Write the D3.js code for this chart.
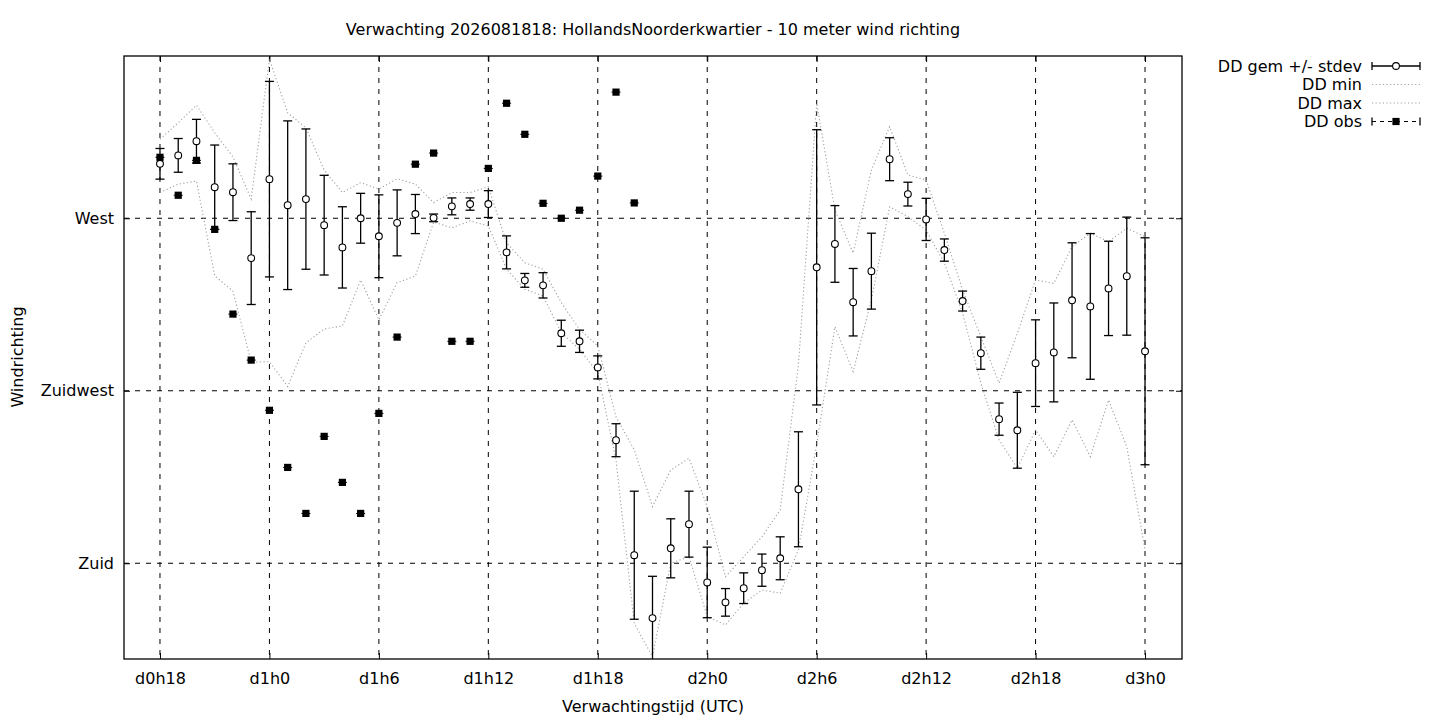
<!DOCTYPE html>
<html><head><meta charset="utf-8">
<script src="https://cdn.jsdelivr.net/npm/d3@7/dist/d3.min.js"></script>
<style>
body{margin:0;background:#fff}
svg{display:block}
text{font-family:"DejaVu Sans",sans-serif;fill:#000}
</style>
</head><body>
<svg id="chart" width="1440" height="720"></svg>
<script>
// ---- data ----
const titleText = "Verwachting 2026081818: HollandsNoorderkwartier - 10 meter wind richting";
const xAxisTitle = "Verwachtingstijd (UTC)";
const yAxisTitle = "Windrichting";

const hours = [18,19,20,21,22,23,24,25,26,27,28,29,30,31,32,33,34,35,36,37,38,39,40,41,42,43,44,45,
  46,47,48,49,50,51,52,53,54,55,56,57,58,59,60,61,62,63,64,65,66,67,68,69,70,71,72];

const ddMean = [284.2,286.4,290.1,278.1,276.8,259.6,280.2,273.4,275.0,268.2,262.4,270.0,265.3,268.8,
  271.1,270.1,273.1,273.7,273.7,261.1,253.8,252.5,240.0,237.9,231.1,212.1,182.1,165.7,183.9,190.2,
  175.0,169.8,173.5,178.2,181.3,199.3,257.2,263.3,248.1,256.2,285.4,276.3,269.7,261.7,248.4,234.8,
  217.6,214.7,232.2,235.0,248.6,247.0,251.7,254.9,235.3];

const ddStdev = [4.0,4.4,5.7,11.0,7.4,12.1,25.5,22.0,18.3,13.0,10.6,6.5,10.8,8.6,5.1,1.0,2.2,1.6,3.5,
  4.3,1.8,3.3,3.4,2.9,3.0,4.3,16.7,10.9,7.7,8.6,9.2,3.6,4.0,4.2,5.6,15.0,35.9,10.0,8.8,9.9,5.6,3.1,
  5.5,2.9,2.6,4.2,4.2,9.9,11.3,12.9,15.0,19.0,12.3,15.4,29.6];

const ddMin = [276.7,278.9,279.7,255.0,251.0,232.4,232.6,226.1,237.5,241.1,241.9,253.9,243.5,253.2,
  254.9,269.0,267.5,269.3,268.0,256.7,251.5,249.7,240.2,235.8,229.7,206.9,164.3,155.6,180.0,181.7,
  166.1,163.9,169.6,173.0,172.2,183.5,210.9,241.7,230.0,248.7,273.0,270.4,266.9,258.3,245.3,227.0,
  212.2,204.8,214.8,207.8,217.4,207.8,222.6,210.4,183.5];

const ddMax = [290.6,294.9,299.5,292.3,286.0,275.0,311.5,297.5,293.6,282.6,276.7,279.3,277.6,280.3,
  278.9,274.1,276.7,276.7,278.2,263.6,258.4,256.7,248.0,241.0,236.7,218.2,209.6,194.8,204.3,207.4,
  194.8,176.5,181.7,186.9,193.9,231.7,300.0,272.2,260.9,282.6,293.9,281.3,280.0,266.1,251.3,239.1,
  227.0,240.0,253.9,253.0,262.6,266.1,263.9,267.4,265.2];

const obsHours = [18,19,20,21,22,23,24,25,26,27,28,29,30,31,32,33,34,35,36,37,38,39,40,41,42,43,44];
const ddObs = [285.9,276.0,285.1,267.1,245.0,233.0,219.9,205.0,193.0,213.1,201.1,193.0,219.1,239.0,
  284.1,287.0,237.9,237.9,283.0,300.0,291.9,273.9,270.0,272.1,281.0,302.9,274.0];

const xTickValues = [18,24,30,36,42,48,54,60,66,72];
const xTickLabels = ["d0h18","d1h0","d1h6","d1h12","d1h18","d2h0","d2h6","d2h12","d2h18","d3h0"];
const yTickValues = [180,225,270];
const yTickLabels = ["Zuid","Zuidwest","West"];
const legendLabels = ["DD gem +/- stdev","DD min","DD max","DD obs"];

// ---- layout ----
const FS = 16;
const svg = d3.select("#chart");
const L = 124, R = 1182, T = 56, B = 659;
const x = d3.scaleLinear().domain([16, 74]).range([123.5, 1181.5]);
const y = d3.scaleLinear().domain([155.0, 312.3]).range([659.1, 56.1]);

svg.append("defs").append("clipPath").attr("id","plotclip")
  .append("rect").attr("x",L).attr("y",T).attr("width",R-L).attr("height",B-T);

// grid
const grid = svg.append("g");
grid.selectAll("line.gx").data(xTickValues).join("line")
  .attr("x1",d=>x(d)).attr("x2",d=>x(d)).attr("y1",T).attr("y2",B)
  .attr("stroke","#000").attr("stroke-width",1).attr("stroke-dasharray","5,6");
grid.selectAll("line.gy").data(yTickValues).join("line")
  .attr("y1",d=>y(d)).attr("y2",d=>y(d)).attr("x1",L).attr("x2",R)
  .attr("stroke","#000").attr("stroke-width",1).attr("stroke-dasharray","5,6");

// axes (ticks inside, mirrored)
const fmtX = d => xTickLabels[xTickValues.indexOf(d)];
const fmtY = d => yTickLabels[yTickValues.indexOf(d)];
const axB = svg.append("g").attr("transform",`translate(0,${B})`)
  .call(d3.axisBottom(x).tickValues(xTickValues).tickFormat(fmtX).tickSizeInner(-6).tickSizeOuter(0).tickPadding(14));
const axT = svg.append("g").attr("transform",`translate(0,${T})`)
  .call(d3.axisTop(x).tickValues(xTickValues).tickFormat("").tickSizeInner(-6).tickSizeOuter(0));
const axL = svg.append("g").attr("transform",`translate(${L},0)`)
  .call(d3.axisLeft(y).tickValues(yTickValues).tickFormat(fmtY).tickSizeInner(-6).tickSizeOuter(0).tickPadding(10));
const axR = svg.append("g").attr("transform",`translate(${R},0)`)
  .call(d3.axisRight(y).tickValues(yTickValues).tickFormat("").tickSizeInner(-6).tickSizeOuter(0));
[axB,axT,axL,axR].forEach(a=>{
  a.select(".domain").remove();
  a.selectAll("line").attr("stroke","#000").attr("stroke-width",1);
  a.selectAll("text").attr("font-family","DejaVu Sans").attr("font-size",FS).attr("fill","#000");
});

// border
svg.append("rect").attr("x",L).attr("y",T).attr("width",R-L).attr("height",B-T)
  .attr("fill","none").attr("stroke","#000").attr("stroke-width",1.3);

const plot = svg.append("g").attr("clip-path","url(#plotclip)");

// min / max dotted lines
const line = d3.line().x((d,i)=>x(hours[i])).y(d=>y(d));
[ddMin, ddMax].forEach(arr=>{
  plot.append("path").attr("d", line(arr)).attr("fill","none")
    .attr("stroke","#a0a0a0").attr("stroke-width",1.1).attr("stroke-dasharray","1.2,2.4");
});

// error bars
const eb = plot.append("g");
hours.forEach((h,i)=>{
  const cx = x(h), y1 = y(ddMean[i]+ddStdev[i]), y2 = y(ddMean[i]-ddStdev[i]);
  eb.append("line").attr("x1",cx).attr("x2",cx).attr("y1",y1).attr("y2",y2)
    .attr("stroke","#000").attr("stroke-width",1.3);
  [y1,y2].forEach(yy=>eb.append("line").attr("x1",cx-4.5).attr("x2",cx+4.5).attr("y1",yy).attr("y2",yy)
    .attr("stroke","#000").attr("stroke-width",1.3));
});
plot.append("g").selectAll("circle").data(ddMean).join("circle")
  .attr("cx",(d,i)=>x(hours[i])).attr("cy",d=>y(d)).attr("r",3.4)
  .attr("fill","#fff").attr("stroke","#000").attr("stroke-width",1.1);

// observations
const og = plot.append("g");
obsHours.forEach((h,i)=>{
  const cx = x(h), cy = y(ddObs[i]);
  og.append("line").attr("x1",cx-4.5).attr("x2",cx+4.5).attr("y1",cy).attr("y2",cy)
    .attr("stroke","#000").attr("stroke-width",1);
  og.append("rect").attr("x",cx-3.6).attr("y",cy-3.6).attr("width",7.2).attr("height",7.2).attr("fill","#000");
});

// title & axis titles
svg.append("text").attr("x",653).attr("y",35).attr("text-anchor","middle").attr("font-size",FS).text(titleText);
svg.append("text").attr("x",653).attr("y",712).attr("text-anchor","middle").attr("font-size",FS).text(xAxisTitle);
svg.append("text").attr("transform","translate(23,357) rotate(-90)").attr("text-anchor","middle").attr("font-size",FS).text(yAxisTitle);

// legend
const lg = svg.append("g");
const rowsY = [66, 84.5, 103, 121.5];
const sx1 = 1372, sx2 = 1420, smid = 1396;
legendLabels.forEach((t,i)=>{
  lg.append("text").attr("x",1362).attr("y",rowsY[i]).attr("dy","0.35em").attr("text-anchor","end")
    .attr("font-size",FS).text(t);
});
// gem
let ry = rowsY[0];
lg.append("line").attr("x1",sx1).attr("x2",sx2).attr("y1",ry).attr("y2",ry).attr("stroke","#000").attr("stroke-width",1.3);
[sx1,sx2].forEach(xx=>lg.append("line").attr("x1",xx).attr("x2",xx).attr("y1",ry-4).attr("y2",ry+4).attr("stroke","#000").attr("stroke-width",1.3));
lg.append("circle").attr("cx",smid).attr("cy",ry).attr("r",3.4).attr("fill","#fff").attr("stroke","#000").attr("stroke-width",1.1);
// min/max
[1,2].forEach(k=>lg.append("line").attr("x1",sx1).attr("x2",sx2).attr("y1",rowsY[k]).attr("y2",rowsY[k])
  .attr("stroke","#a0a0a0").attr("stroke-width",1.1).attr("stroke-dasharray","1.2,2.4"));
// obs
ry = rowsY[3];
lg.append("line").attr("x1",sx1).attr("x2",sx2).attr("y1",ry).attr("y2",ry).attr("stroke","#000").attr("stroke-width",1).attr("stroke-dasharray","4,4");
[sx1,sx2].forEach(xx=>lg.append("line").attr("x1",xx).attr("x2",xx).attr("y1",ry-4).attr("y2",ry+4).attr("stroke","#000").attr("stroke-width",1.3));
lg.append("rect").attr("x",smid-3.6).attr("y",ry-3.6).attr("width",7.2).attr("height",7.2).attr("fill","#000");
</script>
</body></html>
